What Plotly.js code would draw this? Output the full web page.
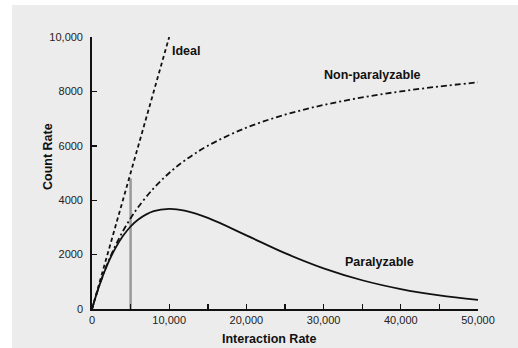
<!DOCTYPE html>
<html>
<head>
<meta charset="utf-8">
<script src="https://cdn.plot.ly/plotly-3.0.1.min.js"></script>
<style>
html,body{margin:0;padding:0;background:#fff;}
#chart{width:518px;height:348px;}
</style>
</head>
<body>
<div id="chart"></div>
<script>
// Interaction rate (x) sample points
var interactionRate = [0, 1000, 2000, 3000, 4000, 5000, 6000, 8000, 10000, 12000, 15000, 20000, 25000, 30000, 35000, 40000, 45000, 50000];
// Non-paralyzable count rate
var nonParalyzable = [0, 909, 1667, 2308, 2857, 3333, 3750, 4444, 5000, 5455, 6000, 6667, 7143, 7500, 7778, 8000, 8182, 8333];
// Paralyzable count rate
var paralyzable = [0, 905, 1637, 2222, 2681, 3033, 3293, 3595, 3679, 3614, 3347, 2707, 2052, 1494, 1057, 733, 500, 337];
// Ideal response
var idealX = [0, 10000];
var idealY = [0, 10000];
// Gray marker line
var markerX = [5000, 5000];
var markerY = [0, 4800];

var xTickVals = [0, 5000, 10000, 15000, 20000, 25000, 30000, 35000, 40000, 45000, 50000];
var xTickText = ['0', '', '10,000', '', '20,000', '', '30,000', '', '40,000', '', '50,000'];
var yTickVals = [0, 2000, 4000, 6000, 8000, 10000];
var yTickText = ['0', '2000', '4000', '6000', '8000', '10,000'];

var labelNames = ['Ideal', 'Non-paralyzable', 'Paralyzable'];
var labelX = [12200, 36300, 37300];
var labelY = [9480, 8600, 1730];

var FONT = 'Liberation Sans, Arial, sans-serif';

var traces = [
  {x: markerX, y: markerY, mode: 'lines', line: {color: '#9a9a9a', width: 2.5}, hoverinfo: 'skip'},
  {x: idealX, y: idealY, mode: 'lines', line: {color: '#111', width: 1.8, dash: '4px,3px'}},
  {x: interactionRate, y: nonParalyzable, mode: 'lines', line: {color: '#111', width: 1.8, dash: '6px,3px,2px,3px', shape: 'spline'}},
  {x: interactionRate, y: paralyzable, mode: 'lines', line: {color: '#111', width: 1.8, shape: 'spline'}}
];

var annotations = labelNames.map(function(t, i){
  return {x: labelX[i], y: labelY[i], xref: 'x', yref: 'y', xanchor: 'center', yanchor: 'middle',
          text: '<b>' + t + '</b>', showarrow: false,
          font: {family: FONT, size: 12.5, color: '#111'}};
});
annotations.push({xref: 'paper', yref: 'paper', x: (269 - 92) / 386, y: (309 - 339) / 272,
  xanchor: 'center', yanchor: 'middle', text: '<b>Interaction Rate</b>',
  showarrow: false, font: {family: FONT, size: 12.5, color: '#111'}});
annotations.push({xref: 'paper', yref: 'paper', x: (48 - 92) / 386, y: (309 - 157) / 272,
  xanchor: 'center', yanchor: 'middle', text: '<b>Count Rate</b>',
  textangle: -90, showarrow: false, font: {family: FONT, size: 12.5, color: '#111'}});

var layout = {
  width: 518, height: 348,
  margin: {l: 92, r: 40, t: 37, b: 39, pad: 0},
  paper_bgcolor: '#ffffff',
  plot_bgcolor: 'rgba(0,0,0,0)',
  showlegend: false,
  font: {family: FONT, size: 11, color: '#222'},
  xaxis: {range: [0, 50000], tickmode: 'array', tickvals: xTickVals, ticktext: xTickText,
          ticks: 'inside', ticklen: 5, tickwidth: 1.4, tickcolor: '#111', ticklabelstandoff: 0,
          showline: true, linecolor: '#111', linewidth: 1.8, showgrid: false, zeroline: false,
          tickfont: {family: FONT, size: 11, color: '#222'}},
  yaxis: {range: [0, 10000], tickmode: 'array', tickvals: yTickVals, ticktext: yTickText,
          ticks: 'inside', ticklen: 5, tickwidth: 1.4, tickcolor: '#111', ticklabelstandoff: 5,
          showline: true, linecolor: '#111', linewidth: 1.8, showgrid: false, zeroline: false,
          tickfont: {family: FONT, size: 11, color: '#222'}},
  shapes: [{type: 'rect', xref: 'paper', yref: 'paper', layer: 'below',
            x0: (12 - 92) / 386, x1: (518 - 92) / 386, y0: (309 - 348) / 272, y1: (309 - 5) / 272,
            fillcolor: '#ececec', line: {width: 0}}],
  annotations: annotations
};

Plotly.newPlot('chart', traces, layout, {displayModeBar: false, staticPlot: true});
</script>
</body>
</html>
